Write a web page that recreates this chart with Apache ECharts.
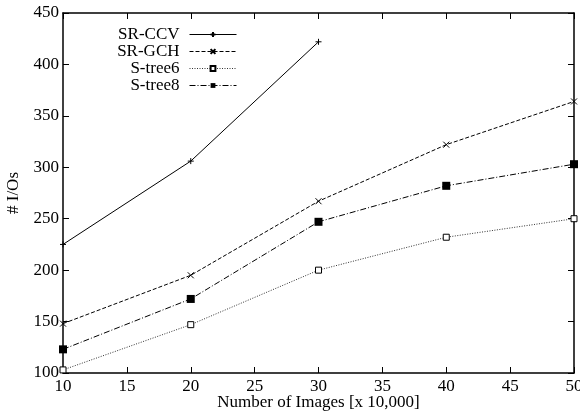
<!DOCTYPE html>
<html><head><meta charset="utf-8">
<script src="https://cdn.jsdelivr.net/npm/echarts@6/dist/echarts.min.js"></script>
<style>html,body{margin:0;padding:0;background:#fff}#c{width:580px;height:414px}</style>
</head><body><div id="c"></div>
<script>
const xVals = [10, 20, 30, 40, 50];
const srCCV = [225, 306, 422];
const srGCH = [148, 195, 267, 322, 364];
const sTree6 = [103, 147, 200, 232, 250];
const sTree8 = [123, 172, 247, 282, 303];
const seriesNames = ['SR-CCV', 'SR-GCH', 'S-tree6', 'S-tree8'];

const pair = (ys) => ys.map((y, i) => [xVals[i], y]);
const FONT = '"Liberation Serif", "DejaVu Serif", serif';
const plusPath = 'path://M5,0L5,10M0,5L10,5';
const crossPath = 'path://M0,0L10,10M10,0L0,10';

const chart = echarts.init(document.getElementById('c'), null, {renderer: 'canvas'});
const axisCommon = {
  type: 'value', splitLine: {show: false},
  axisLine: {show: true, lineStyle: {color: '#000', width: 1.5}},
  axisTick: {show: true, inside: true, length: 6, lineStyle: {color: '#000', width: 1}},
};
chart.setOption({
  animation: false,
  backgroundColor: '#fff',
  grid: {left: 63, right: 6, top: 13, bottom: 41, outerBoundsMode: 'none', containLabel: false},
  legend: {
    orient: 'vertical', right: 343, top: 26, padding: 0, align: 'right',
    itemWidth: 47, itemHeight: 6, itemGap: 0,
    lineStyle: {width: 1},
    textStyle: {fontFamily: FONT, fontSize: 17, color: '#000', lineHeight: 16.3, padding: [0, 5, 0, 0]},
    data: seriesNames
  },
  xAxis: [
    Object.assign({}, axisCommon, {
      min: 10, max: 50, interval: 5, position: 'bottom',
      axisLabel: {fontFamily: FONT, fontSize: 17, color: '#000', margin: 5},
      name: 'Number of Images [x 10,000]', nameLocation: 'middle', nameGap: 21,
      nameMoveOverlap: false,
      nameTextStyle: {fontFamily: FONT, fontSize: 17, color: '#000'}
    }),
    Object.assign({}, axisCommon, {
      min: 10, max: 50, interval: 5, position: 'top', axisLabel: {show: false}
    })
  ],
  yAxis: [
    Object.assign({}, axisCommon, {
      min: 100, max: 450, interval: 50, position: 'left',
      axisLabel: {fontFamily: FONT, fontSize: 17, color: '#000', margin: 4},
      name: '# I/Os', nameLocation: 'middle', nameGap: 41,
      nameMoveOverlap: false,
      nameTextStyle: {fontFamily: FONT, fontSize: 17, color: '#000'}
    }),
    Object.assign({}, axisCommon, {
      min: 100, max: 450, interval: 50, position: 'right', axisLabel: {show: false}
    })
  ],
  series: [
    {name: seriesNames[0], type: 'line', data: pair(srCCV), symbol: plusPath, symbolSize: 6,
     lineStyle: {color: '#000', width: 1, type: 'solid'},
     itemStyle: {color: '#000', borderColor: '#000', borderWidth: 1}},
    {name: seriesNames[1], type: 'line', data: pair(srGCH), symbol: crossPath, symbolSize: 6,
     lineStyle: {color: '#000', width: 1, type: [4, 2]},
     itemStyle: {color: '#000', borderColor: '#000', borderWidth: 1}},
    {name: seriesNames[2], type: 'line', data: pair(sTree6), symbol: 'rect', symbolSize: 6,
     lineStyle: {color: '#333', width: 1, type: [1, 1.5]},
     itemStyle: {color: '#fff', borderColor: '#000', borderWidth: 1}},
    {name: seriesNames[3], type: 'line', data: pair(sTree8), symbol: 'rect', symbolSize: 8,
     lineStyle: {color: '#000', width: 1, type: [6, 2, 1, 2]},
     itemStyle: {color: '#000', borderColor: '#000', borderWidth: 0}}
  ]
});
</script></body></html>
